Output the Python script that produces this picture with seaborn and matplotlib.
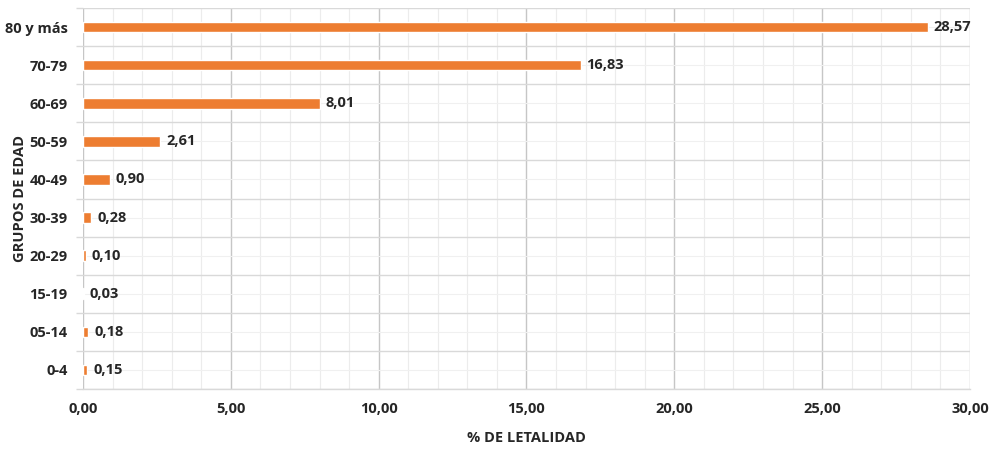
import numpy as np
import pandas as pd
import matplotlib
matplotlib.use("Agg")
import matplotlib.pyplot as plt
from matplotlib.ticker import FuncFormatter, MultipleLocator, FixedLocator
import seaborn as sns

# Datos
grupos = ["80 y más", "70-79", "60-69", "50-59", "40-49", "30-39", "20-29", "15-19", "05-14", "0-4"]
letalidad = [28.57, 16.83, 8.01, 2.61, 0.90, 0.28, 0.10, 0.03, 0.18, 0.15]
etiquetas = ["28,57", "16,83", "8,01", "2,61", "0,90", "0,28", "0,10", "0,03", "0,18", "0,15"]

df = pd.DataFrame({"grupo": grupos, "letalidad": letalidad})

sns.set_theme(style="white")
plt.rcParams["font.family"] = ["Open Sans", "DejaVu Sans"]

fig = plt.figure(figsize=(9.9, 4.49), dpi=100)
ax = fig.add_axes([0.0838, 0.1336, 0.8960, 0.8486])

sns.barplot(data=df, x="letalidad", y="grupo", order=grupos, orient="h",
            color="#ED7D31", saturation=1, width=0.28, ax=ax, zorder=3)

ax.set_xlim(0, 30)
ax.set_ylim(len(grupos) - 0.5, -0.5)

# Rejilla
ax.xaxis.set_major_locator(MultipleLocator(5))
ax.xaxis.set_minor_locator(MultipleLocator(1))
ax.yaxis.set_minor_locator(FixedLocator(np.arange(-0.5, len(grupos), 1)))
ax.grid(True, axis="x", which="major", color="#c6c6c6", lw=1.0, zorder=0)
ax.grid(True, axis="x", which="minor", color="#ececec", lw=0.8, zorder=0)
ax.grid(True, axis="y", which="major", color="#f0f0f0", lw=0.8, zorder=0)
ax.grid(True, axis="y", which="minor", color="#d9d9d9", lw=1.0, zorder=0)
ax.set_axisbelow(True)

for s in ["top", "right", "left"]:
    ax.spines[s].set_visible(False)
ax.spines["bottom"].set_color("#d9d9d9")
ax.spines["bottom"].set_linewidth(1.0)

fs = 10.5
ax.xaxis.set_major_formatter(FuncFormatter(lambda v, p: f"{v:.2f}".replace(".", ",")))
ax.tick_params(axis="x", which="both", length=0, pad=9, labelsize=fs, labelcolor="#262626")
ax.tick_params(axis="y", which="major", length=0, pad=11, labelsize=fs, labelcolor="#262626")
ax.tick_params(axis="y", which="minor", length=5, width=1.0, color="#d9d9d9", left=True)
for lbl in ax.get_xticklabels() + ax.get_yticklabels():
    lbl.set_fontweight("bold")

# Etiquetas de valor
for i, (v, t) in enumerate(zip(letalidad, etiquetas)):
    ax.text(v + 0.2, i, t, va="center", ha="left", fontsize=fs,
            fontweight="bold", color="#262626", zorder=4)

ax.set_xlabel("% DE LETALIDAD", fontsize=fs, fontweight="bold", color="#262626")
ax.set_ylabel("GRUPOS DE EDAD", fontsize=fs, fontweight="bold", color="#262626")
ax.xaxis.set_label_coords(0.5, -0.11)
ax.yaxis.set_label_coords(-0.063, 0.5)

fig.savefig("out.png", dpi=100)
